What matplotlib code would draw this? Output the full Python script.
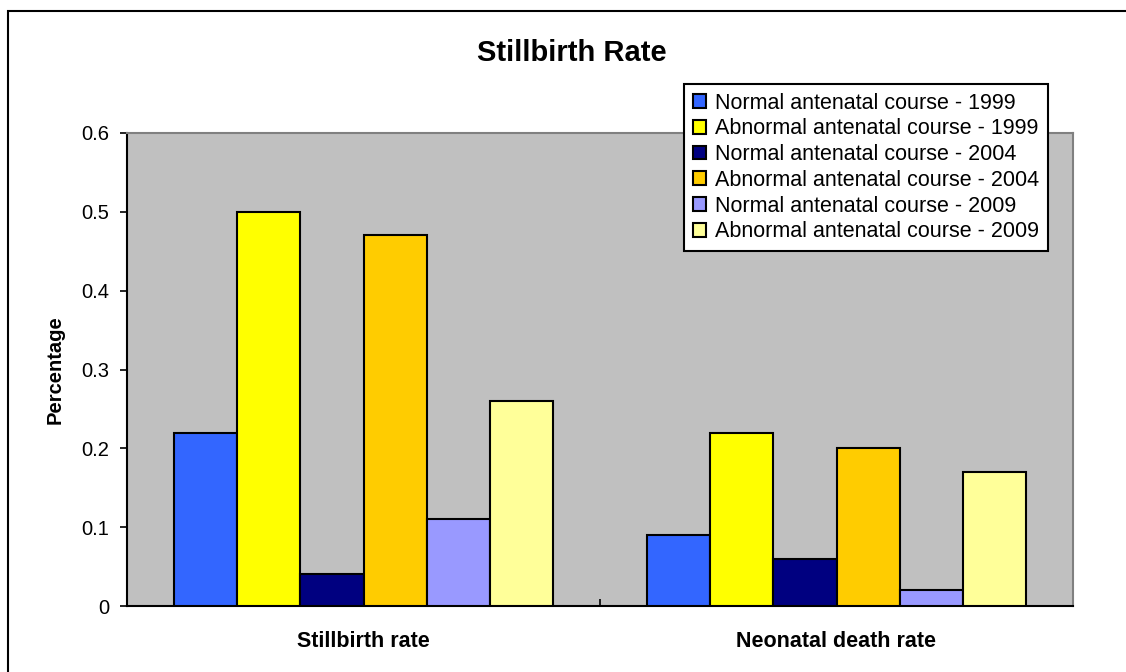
import numpy as np
import matplotlib
matplotlib.use('Agg')
import matplotlib.pyplot as plt
from matplotlib.patches import Rectangle

plt.rcParams['font.family'] = ['Liberation Sans', 'DejaVu Sans']

#data
categories = ['Stillbirth rate', 'Neonatal death rate']
series = ['Normal antenatal course - 1999', 'Abnormal antenatal course - 1999',
          'Normal antenatal course - 2004', 'Abnormal antenatal course - 2004',
          'Normal antenatal course - 2009', 'Abnormal antenatal course - 2009']
values = [[0.22, 0.09],
          [0.50, 0.22],
          [0.04, 0.06],
          [0.47, 0.20],
          [0.11, 0.02],
          [0.26, 0.17]]
colors = ['#3366FF', '#FFFF00', '#000080', '#FFCC00', '#9999FF', '#FFFF99']
yticks = [0, 0.1, 0.2, 0.3, 0.4, 0.5, 0.6]
ylabels = ['0', '0.1', '0.2', '0.3', '0.4', '0.5', '0.6']

fig = plt.figure(figsize=(11.26, 6.72), dpi=100)
ax = fig.add_axes([127/1126, 1-606/672, (1073-127)/1126, (606-133)/672])
ax.set_facecolor('#C0C0C0')

#outer chart frame (only top and left visible)
fig.patches.append(Rectangle((8/1126, -0.1), 1.2, 1-11/672+0.1, transform=fig.transFigure,
                             fill=False, edgecolor='black', linewidth=1.5))

x = np.arange(len(categories))
n = len(series)
w = 1.0/(n+1.5)
for i in range(n):
    ax.bar(x + (i-(n-1)/2)*w, values[i], w, color=colors[i], edgecolor='black',
           linewidth=1.5, label=series[i], zorder=3)

ax.set_xlim(-0.5, 1.5)
ax.set_ylim(0, 0.6)
ax.set_yticks(yticks)
ax.set_yticklabels(ylabels, fontsize=14.5)
ax.tick_params(axis='y', direction='out', length=5, width=1.2, pad=8)
ax.set_xticks(x)
ax.set_xticklabels(categories, fontsize=15.5, fontweight='bold')
ax.tick_params(axis='x', length=0, pad=18)
ax.set_xticks([-0.5, 0.5, 1.5], minor=True)
ax.tick_params(axis='x', which='minor', direction='in', length=5, width=1.2)

for s in ['left', 'bottom']:
    ax.spines[s].set_color('black')
    ax.spines[s].set_linewidth(1.5)
for s in ['top', 'right']:
    ax.spines[s].set_color('#808080')
    ax.spines[s].set_linewidth(1.5)

ax.set_ylabel('Percentage', fontsize=14.5, fontweight='bold', labelpad=12)
fig.text(572/1126, 1-53/672, 'Stillbirth Rate', fontsize=21, fontweight='bold', ha='center', va='center')

leg = ax.legend(loc='upper left', bbox_to_anchor=(684/1126, 1-84/672), bbox_transform=fig.transFigure,
                fontsize=15.5, frameon=True, fancybox=False, borderaxespad=0, handlelength=0.6,
                handleheight=0.6, handletextpad=0.45, labelspacing=0.22, borderpad=0.4)
leg.get_frame().set_edgecolor('black')
leg.get_frame().set_linewidth(1.5)
leg.get_frame().set_alpha(None)
leg.get_frame().set_facecolor('white')
leg.set_zorder(5)

plt.savefig('out.png', dpi=100)
